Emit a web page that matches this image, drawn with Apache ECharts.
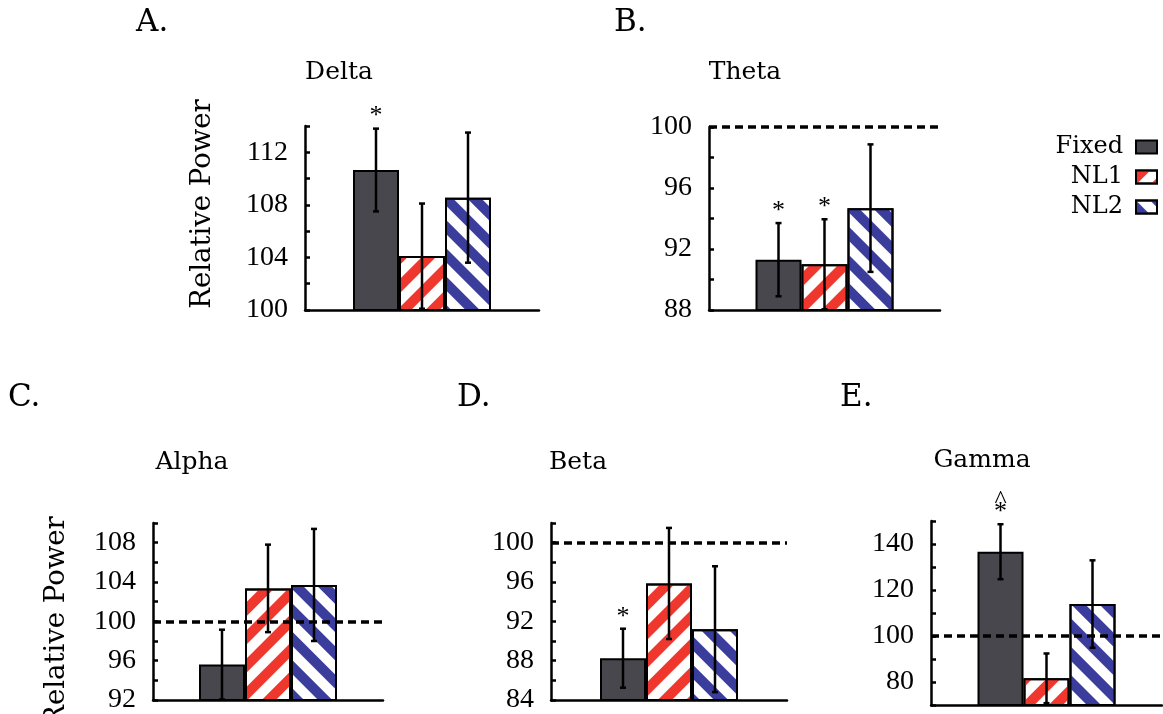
<!DOCTYPE html>
<html><head><meta charset="utf-8">
<script src="https://cdn.jsdelivr.net/npm/echarts@6/dist/echarts.min.js"></script>
<style>html,body{margin:0;padding:0;background:#fff}#c{width:1163px;height:714px}</style>
</head><body><div id="c"></div><script>
// ---- data ----
const groups = ['Fixed', 'NL1', 'NL2'];
const panelTitles = ['Delta', 'Theta', 'Alpha', 'Beta', 'Gamma'];
const panelLetters = ['A.', 'B.', 'C.', 'D.', 'E.'];
const yName = 'Relative Power';

const deltaMean = [110.65, 104.1, 108.55];
const deltaErr  = [3.15, 4.0, 4.95];
const deltaSig  = ['*', '', ''];
const deltaTicks = [100, 104, 108, 112];

const thetaMean = [91.3, 91.0, 94.68];
const thetaErr  = [2.4, 2.95, 4.18];
const thetaSig  = ['*', '*', ''];
const thetaTicks = [88, 92, 96, 100];

const alphaMean = [95.6, 103.35, 103.7];
const alphaErr  = [3.55, 4.45, 5.7];
const alphaSig  = ['', '', ''];
const alphaTicks = [92, 96, 100, 104, 108];

const betaMean = [88.25, 95.85, 91.2];
const betaErr  = [3.0, 5.65, 6.4];
const betaSig  = ['*', '', ''];
const betaTicks = [84, 88, 92, 96, 100];

const gammaMean = [136.65, 81.6, 113.9];
const gammaErr  = [11.95, 10.8, 19.0];
const gammaSig  = ['^*', '', ''];
const gammaTicks = [80, 100, 120, 140];

const axisMin  = [100, 88, 92, 84, 70];
const axisMax  = [114, 100, 110, 102, 150];
const axisStep = [2, 2, 2, 2, 10];
const refValue = [null, 100, 100, 100, 100];

const means = [deltaMean, thetaMean, alphaMean, betaMean, gammaMean];
const errs  = [deltaErr, thetaErr, alphaErr, betaErr, gammaErr];
const sigs  = [deltaSig, thetaSig, alphaSig, betaSig, gammaSig];
const ticks = [deltaTicks, thetaTicks, alphaTicks, betaTicks, gammaTicks];

// ---- layout / style ----
const grids = [
  {left: 305, top: 126, width: 234, height: 184},
  {left: 709, top: 127, width: 231, height: 183},
  {left: 153, top: 523, width: 230, height: 182},
  {left: 551, top: 523, width: 236, height: 183},
  {left: 931, top: 521, width: 231, height: 184}
];
const titlePos = [[339, 72], [745, 72], [192, 462], [578, 462], [982, 460]];
const letterPos = [[136, 23], [614, 23], [8, 398], [457, 398], [840, 398]];
const BAR_W = 46;
const TICK_FONT = 'Liberation Serif';
const TEXT_FONT = 'DejaVu Serif';

const barStyles = [
  {color: '#47474d', borderColor: '#000', borderWidth: 2},
  {color: '#ffffff', borderColor: '#000', borderWidth: 2,
   decal: {symbol: 'rect', symbolSize: 1, dashArrayX: [1, 0], dashArrayY: [10, 10], rotation: -Math.PI / 4, color: '#ef372d'}},
  {color: '#ffffff', borderColor: '#000', borderWidth: 2,
   decal: {symbol: 'rect', symbolSize: 1, dashArrayX: [1, 0], dashArrayY: [10, 10], rotation: Math.PI / 4, color: '#3a3d9c'}}
];

function makeErr(sig) {
  return function (params, api) {
    const i = api.value(0);
    const cs = params.coordSys;
    const bottom = cs.y + cs.height;
    const lo = api.coord([0, api.value(1)]);
    const hi = api.coord([0, api.value(2)]);
    const x = lo[0] + (i - 1) * BAR_W;
    const y1 = Math.min(lo[1], bottom);
    const y2 = hi[1];
    const st = {stroke: '#000', lineWidth: 2.5};
    const ch = [
      {type: 'line', shape: {x1: x, y1: y1, x2: x, y2: y2}, style: st},
      {type: 'line', shape: {x1: x - 3, y1: y2, x2: x + 3, y2: y2}, style: st}
    ];
    if (lo[1] < bottom) ch.push({type: 'line', shape: {x1: x - 3, y1: lo[1], x2: x + 3, y2: lo[1]}, style: st});
    const s = sig[params.dataIndex] || '';
    const chars = s.split('').reverse();
    chars.forEach((c, k) => {
      ch.push({type: 'text', style: {text: c, x: x, y: y2 + 1 - k * 11, align: 'center', verticalAlign: 'bottom',
        font: '26px "' + TICK_FONT + '"', fill: '#000'}});
    });
    return {type: 'group', children: ch};
  };
}

const option = {
  animation: false,
  backgroundColor: '#fff',
  legend: {
    data: groups, orient: 'vertical', align: 'right', right: 5, top: 135, padding: 0,
    icon: 'rect', itemWidth: 21, itemHeight: 13, itemGap: 6,
    textStyle: {fontFamily: TEXT_FONT, fontSize: 24, color: '#000', padding: [0, 8, 0, 0]}
  },
  grid: grids.map(g => Object.assign({containLabel: false}, g)),
  xAxis: grids.map((g, p) => ({
    type: 'category', gridIndex: p, data: [''],
    axisLine: {show: true, onZero: false, lineStyle: {color: '#000', width: 2.5}},
    axisTick: {show: false}, axisLabel: {show: false}, splitLine: {show: false}
  })),
  yAxis: grids.map((g, p) => ({
    type: 'value', gridIndex: p, min: axisMin[p], max: axisMax[p], interval: axisStep[p],
    axisLine: {show: true, lineStyle: {color: '#000', width: 2.5}},
    axisTick: {show: true, inside: true, length: 5, lineStyle: {color: '#000', width: 2.5}},
    splitLine: {show: false},
    axisLabel: {
      margin: 17, color: '#000', fontFamily: TICK_FONT, fontSize: 28,
      formatter: (v) => ticks[p].indexOf(v) >= 0 ? String(v) : ''
    }
  })),
  graphic: [],
  series: []
};

panelTitles.forEach((t, p) => {
  option.graphic.push({type: 'text', x: titlePos[p][0], y: titlePos[p][1],
    style: {text: t, align: 'center', verticalAlign: 'middle', font: '25px "' + TEXT_FONT + '"', fill: '#000'}});
  option.graphic.push({type: 'text', x: letterPos[p][0], y: letterPos[p][1],
    style: {text: panelLetters[p], align: 'left', verticalAlign: 'middle', font: '31px "' + TEXT_FONT + '"', fill: '#000'}});
});
[[203, 204], [57, 621]].forEach(pos => {
  option.graphic.push({type: 'text', x: pos[0], y: pos[1], rotation: Math.PI / 2,
    style: {text: yName, align: 'center', verticalAlign: 'middle', font: '27.5px "' + TEXT_FONT + '"', fill: '#000'}});
});

means.forEach((m, p) => {
  groups.forEach((g, i) => {
    const s = {
      name: g, type: 'bar', xAxisIndex: p, yAxisIndex: p,
      data: [m[i]], barWidth: BAR_W, barGap: '0%',
      itemStyle: barStyles[i]
    };
    if (i === 2 && refValue[p] !== null) {
      s.markLine = {silent: true, symbol: 'none', label: {show: false},
        lineStyle: {type: [8, 5], width: 3.5, color: '#000'},
        data: [{yAxis: refValue[p]}]};
    }
    option.series.push(s);
  });
  option.series.push({
    type: 'custom', xAxisIndex: p, yAxisIndex: p, z: 10,
    renderItem: makeErr(sigs[p]),
    data: m.map((v, i) => [i, v - errs[p][i], v + errs[p][i]])
  });
});

const chart = echarts.init(document.getElementById('c'), null, {renderer: 'canvas'});
chart.setOption(option);
</script></body></html>
